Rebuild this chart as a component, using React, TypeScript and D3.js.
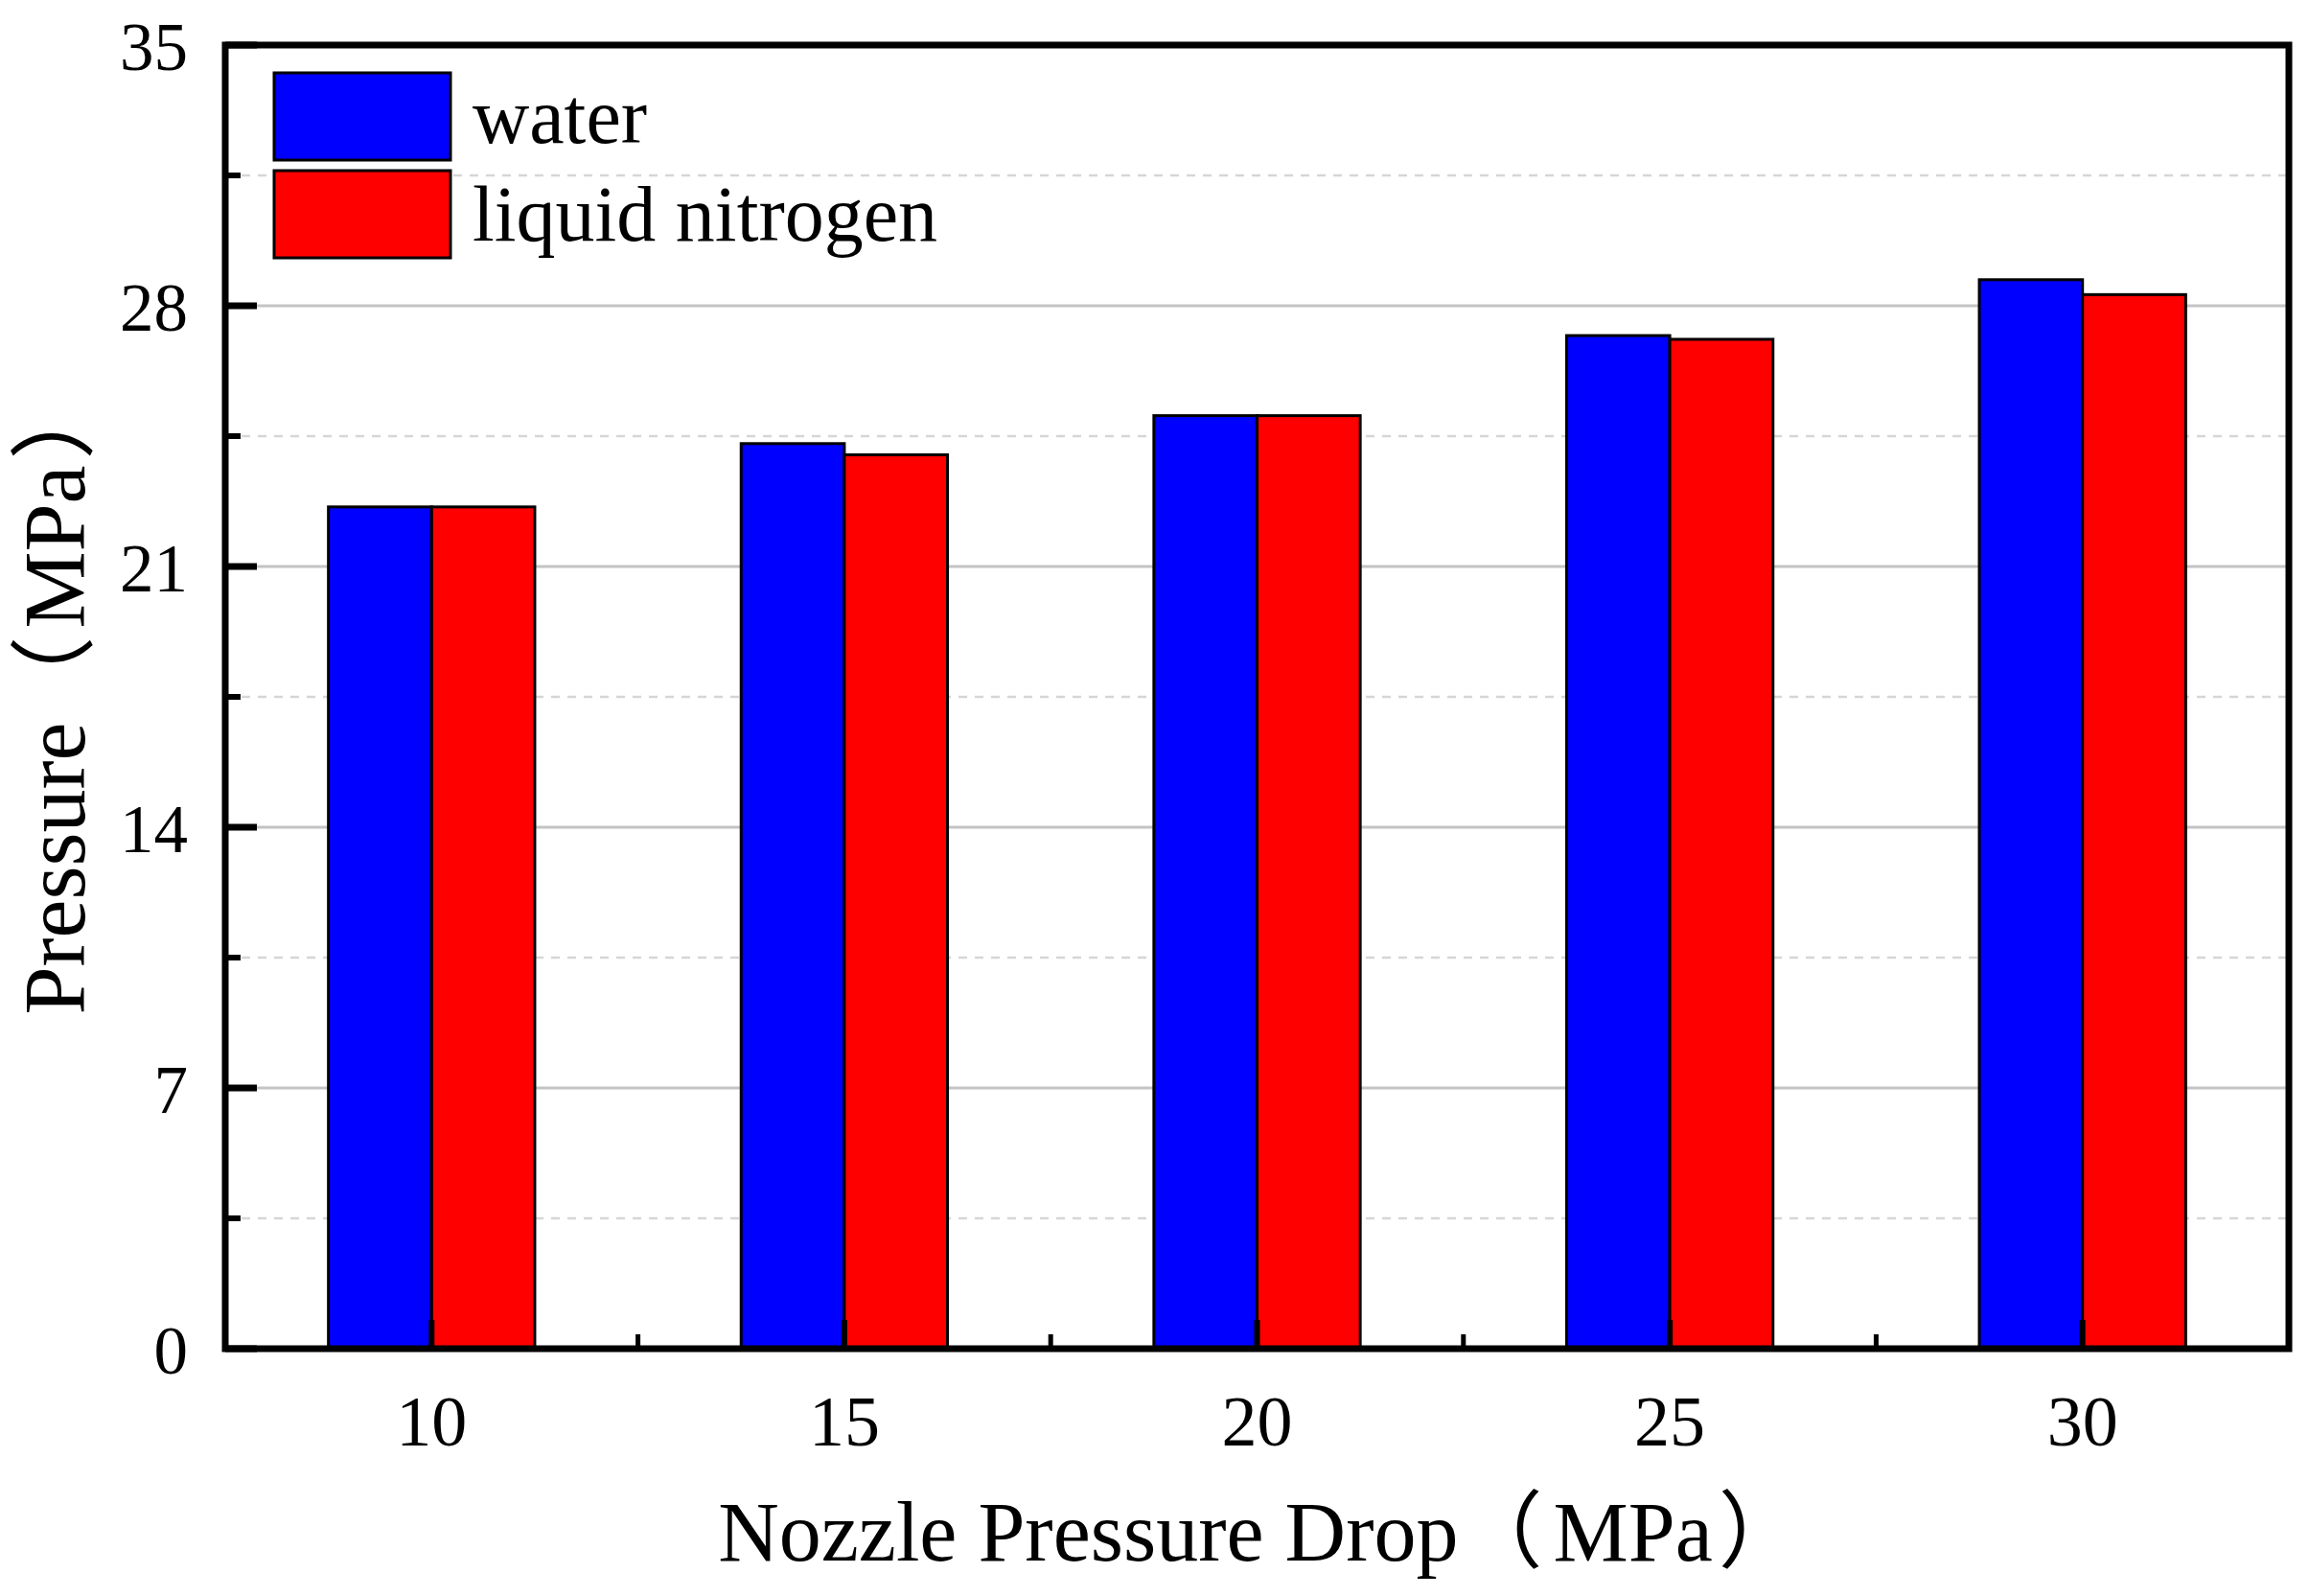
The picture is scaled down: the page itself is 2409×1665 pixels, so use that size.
import React from "react"
import * as d3 from "d3"

const categories = [10, 15, 20, 25, 30]
const water = [22.6, 24.3, 25.05, 27.2, 28.7]
const liquidNitrogen = [22.6, 24.0, 25.05, 27.1, 28.3]
const yTicks = [0, 7, 14, 21, 28, 35]
const yMinor = [3.5, 10.5, 17.5, 24.5, 31.5]
const xMinor = [12.5, 17.5, 22.5, 27.5]
const series = [
  { name: "water", values: water, color: "#0000ff" },
  { name: "liquid nitrogen", values: liquidNitrogen, color: "#ff0000" },
]

const W = 2409
const H = 1665
const font = "'Liberation Serif', 'Times New Roman', 'Noto Sans CJK SC', serif"

export default function App() {
  React.useEffect(() => {
    document.body.style.margin = "0"
  }, [])

  const x = d3.scaleLinear().domain([7.5, 32.5]).range([235, 2388])
  const y = d3.scaleLinear().domain([0, 35]).range([1407, 47])
  const bw = x(11.25) - x(10)

  return (
    <svg width={W} height={H} style={{ display: "block", background: "#fff" }}>
      {/* grid */}
      {yTicks.map(t => (
        <line key={"g" + t} x1={x(7.5)} x2={x(32.5)} y1={y(t)} y2={y(t)} stroke="#c4c4c4" strokeWidth={3} />
      ))}
      {yMinor.map(t => (
        <line
          key={"gm" + t}
          x1={x(7.5)}
          x2={x(32.5)}
          y1={y(t)}
          y2={y(t)}
          stroke="#d6d6d6"
          strokeWidth={2.5}
          strokeDasharray="9,8"
        />
      ))}

      {/* bars */}
      {series.map((s, si) =>
        categories.map((c, i) => (
          <rect
            key={s.name + c}
            x={si === 0 ? x(c) - bw : x(c)}
            y={y(s.values[i])}
            width={bw}
            height={y(0) - y(s.values[i])}
            fill={s.color}
            stroke="#000"
            strokeWidth={3}
          />
        ))
      )}

      {/* frame */}
      <rect x={x(7.5)} y={y(35)} width={x(32.5) - x(7.5)} height={y(0) - y(35)} fill="none" stroke="#000" strokeWidth={7} />

      {/* ticks */}
      {yTicks.map(t => (
        <line key={"yt" + t} x1={x(7.5)} x2={x(7.5) + 33} y1={y(t)} y2={y(t)} stroke="#000" strokeWidth={7} />
      ))}
      {yMinor.map(t => (
        <line key={"ym" + t} x1={x(7.5)} x2={x(7.5) + 16} y1={y(t)} y2={y(t)} stroke="#000" strokeWidth={6} />
      ))}
      {categories.map(c => (
        <line key={"xt" + c} x1={x(c)} x2={x(c)} y1={y(0)} y2={y(0) - 30} stroke="#000" strokeWidth={6} />
      ))}
      {xMinor.map(c => (
        <line key={"xm" + c} x1={x(c)} x2={x(c)} y1={y(0)} y2={y(0) - 15} stroke="#000" strokeWidth={5} />
      ))}

      {/* tick labels */}
      {yTicks.map(t => (
        <text key={"yl" + t} x={196} y={y(t) + 26} fontFamily={font} fontSize={71} textAnchor="end" fill="#000">
          {t}
        </text>
      ))}
      {categories.map(c => (
        <text key={"xl" + c} x={x(c)} y={1508} fontFamily={font} fontSize={74} textAnchor="middle" fill="#000">
          {c}
        </text>
      ))}

      {/* axis titles */}
      <text x={1315} y={1628} fontFamily={font} fontSize={88} textAnchor="middle" fill="#000">
        <tspan>Nozzle Pressure Drop</tspan>
        <tspan>（</tspan>
        <tspan dx={11}>MPa</tspan>
        <tspan dx={6}>）</tspan>
      </text>
      <text transform="translate(88,724) rotate(-90)" fontFamily={font} fontSize={90} textAnchor="middle" fill="#000">
        <tspan>Pressure</tspan>
        <tspan>（</tspan>
        <tspan dx={8}>MPa</tspan>
        <tspan dx={6}>）</tspan>
      </text>

      {/* legend */}
      {series.map((s, i) => (
        <g key={"lg" + s.name} transform={`translate(0,${i * 102})`}>
          <rect x={286} y={76} width={184} height={91} fill={s.color} stroke="#000" strokeWidth={3} />
          <text x={493} y={149} fontFamily={font} fontSize={82} fill="#000">
            {s.name}
          </text>
        </g>
      ))}
    </svg>
  )
}
